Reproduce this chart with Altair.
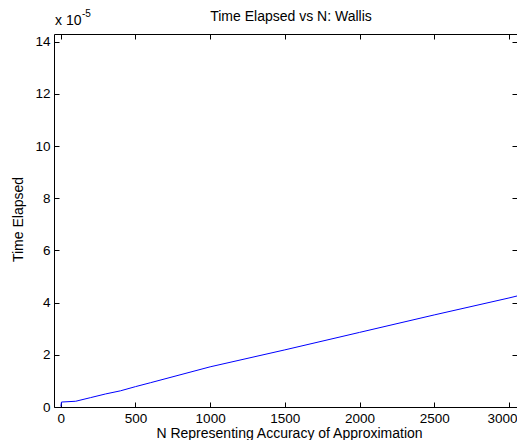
import altair as alt
import pandas as pd

# N values and elapsed time (in units of 1e-5 seconds)
n_values = [1, 5, 100, 200, 300, 400, 500, 600, 1000, 1500, 2000, 2500, 3000, 3100]
time_e5 = [0.02, 0.19, 0.22, 0.36, 0.50, 0.62, 0.78, 0.93, 1.54, 2.19, 2.86, 3.53, 4.18, 4.32]
x_ticks = [0, 500, 1000, 1500, 2000, 2500, 3000]
y_ticks = [0, 2, 4, 6, 8, 10, 12, 14]
title_text = "Time Elapsed vs N: Wallis"
x_title = "N Representing Accuracy of Approximation"
y_title = "Time Elapsed"

df = pd.DataFrame({"N": n_values, "t": time_e5})

FONT = "Liberation Sans"
FS = 14
LFS = 13.5
W, H = 463, 373

xs = alt.Scale(domain=[-45, 3054], nice=False, zero=False)
ys = alt.Scale(domain=[0, 14.3], nice=False, zero=False)

line = alt.Chart(df).mark_line(color="#0000ff", strokeWidth=1, clip=True).encode(
    x=alt.X("N:Q", scale=xs,
            axis=alt.Axis(values=x_ticks, title=x_title,
                          format="d", grid=False, tickSize={"expr": "-5"}, labelPadding=9,
                          labelAlign={"condition": {"test": "datum.value == 3000", "value": "right"},
                                      "value": "center"},
                          labelOffset={"condition": {"test": "datum.value == 3000", "value": 8},
                                       "value": 0},
                          titleX=235, titleY=26, titleBaseline="middle", titleAnchor="middle",
                          domainColor="black", tickColor="black")),
    y=alt.Y("t:Q", scale=ys,
            axis=alt.Axis(values=y_ticks, title=y_title, format="d",
                          grid=False, tickSize={"expr": "-5"}, labelPadding=9,
                          titleX=-36, titleY=185, titleBaseline="middle", titleAnchor="middle",
                          domainColor="black", tickColor="black")),
)

# mirrored axes (top and right) with inward ticks, no labels
mirror = alt.Chart(df).mark_point(opacity=0).encode(
    x=alt.X("N:Q", scale=xs,
            axis=alt.Axis(orient="top", values=x_ticks, title=None, labels=False,
                          grid=False, tickSize={"expr": "-5"}, domainColor="black",
                          tickColor="black")),
    y=alt.Y("t:Q", scale=ys,
            axis=alt.Axis(orient="right", values=y_ticks, title=None, labels=False,
                          grid=False, tickSize={"expr": "-5"}, domainColor="black",
                          tickColor="black")),
)

title = alt.Chart(pd.DataFrame({"s": [title_text]})).mark_text(
    font=FONT, fontSize=FS, align="center", baseline="middle", color="black"
).encode(text="s:N", x=alt.value(237), y=alt.value(-17))

mult = alt.Chart(pd.DataFrame({"s": ["x 10"]})).mark_text(
    font=FONT, fontSize=FS, align="left", baseline="alphabetic", color="black"
).encode(text="s:N", x=alt.value(1), y=alt.value(-9))

expo = alt.Chart(pd.DataFrame({"s": ["-5"]})).mark_text(
    font=FONT, fontSize=10, align="left", baseline="alphabetic", color="black"
).encode(text="s:N", x=alt.value(28), y=alt.value(-17))

chart = alt.layer(line, mirror, title, mult, expo).resolve_axis(x="independent", y="independent").properties(
    width=W, height=H,
    autosize=alt.AutoSizeParams(type="none"),
    padding={"left": 46, "top": 26, "right": 0, "bottom": 33},
    background="white",
).configure_axis(
    labelFont=FONT, labelFontSize=LFS, labelColor="black",
    titleFont=FONT, titleFontSize=FS, titleColor="black", titleFontWeight="normal",
    domainWidth=1, tickWidth=1,
).configure_view(stroke=None)

chart.save("out.html", embed_options={"renderer": "svg", "actions": False})
